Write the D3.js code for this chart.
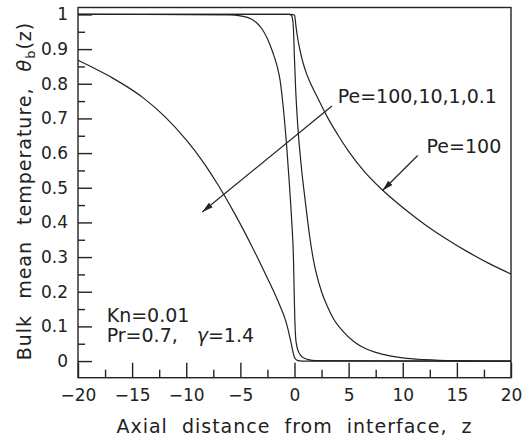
<!DOCTYPE html>
<html>
<head>
<meta charset="utf-8">
<script src="https://cdn.jsdelivr.net/npm/d3@7"></script>
<style>
  body { margin: 0; background: #fff; }
  text { font-family: "DejaVu Sans", sans-serif; fill: #222; }
</style>
</head>
<body>
<div id="chart"></div>
<script>
// curves (z, theta_b)
const pe100Z = [-20, -0.3, -0.1, 0, 0.05, 0.12, 0.25, 0.45, 0.75, 1.1, 1.5, 2, 3, 4, 5, 6.5, 8, 10, 12, 14, 16, 18, 20]
const pe100T = [1, 1, 0.999, 0.997, 0.99, 0.97, 0.94, 0.905, 0.865, 0.83, 0.8, 0.768, 0.706, 0.653, 0.605, 0.545, 0.497, 0.443, 0.395, 0.353, 0.315, 0.281, 0.251]

const pe10Z = [-20, -0.5, -0.3, -0.2, -0.1, 0, 0.1, 0.3, 0.6, 1.0, 1.4, 1.7, 2.0, 2.5, 3.0, 3.6, 4.5, 5.5, 6.5, 7.5, 8.8, 10, 12, 15, 20]
const pe10T = [1, 1, 0.998, 0.99, 0.96, 0.87, 0.79, 0.68, 0.57, 0.46, 0.36, 0.3, 0.255, 0.2, 0.16, 0.122, 0.085, 0.056, 0.037, 0.025, 0.015, 0.009, 0.004, 0.001, 0]

const pe1Z = [-20, -6, -5, -4, -3.5, -3, -2.5, -2, -1.6, -1.33, -1.0, -0.7, -0.45, -0.25, -0.1, -0.03, 0.03, 0.1, 0.2, 0.4, 0.7, 1.2, 2, 20]
const pe1T = [1, 0.999, 0.996, 0.987, 0.976, 0.958, 0.93, 0.89, 0.85, 0.81, 0.72, 0.61, 0.5, 0.4, 0.3, 0.2, 0.12, 0.07, 0.045, 0.025, 0.012, 0.005, 0.001, 0]

const pe01Z = [-20, -17, -14, -12, -10, -8.5, -7, -5.5, -4, -2.5, -1.5, -0.8, -0.4, -0.15, 0, 0.2, 0.5, 1, 20]
const pe01T = [0.868, 0.82, 0.76, 0.706, 0.638, 0.577, 0.505, 0.424, 0.335, 0.239, 0.171, 0.115, 0.065, 0.028, 0.01, 0.003, 0.0005, 0, 0]

const xTicks = [-20, -15, -10, -5, 0, 5, 10, 15, 20]
const yTicks = [0, 0.1, 0.2, 0.3, 0.4, 0.5, 0.6, 0.7, 0.8, 0.9, 1]

const W = 522, H = 440
const margin = {top: 7.5, right: 11, bottom: 62.3, left: 78}
const w = W - margin.left - margin.right,
      h = H - margin.top - margin.bottom

const x = d3.scaleLinear().domain([-20, 20]).range([0, w])
const y = d3.scaleLinear().domain([-0.048, 1.02]).range([h, 0])

const svg = d3.select("#chart").append("svg")
    .attr("width", W)
    .attr("height", H)

const defs = svg.append("defs")
defs.append("marker")
    .attr("id", "arrow")
    .attr("markerUnits", "userSpaceOnUse")
    .attr("viewBox", "0 -4 12 8")
    .attr("refX", 11)
    .attr("refY", 0)
    .attr("markerWidth", 12)
    .attr("markerHeight", 8)
    .attr("orient", "auto")
    .append("path")
    .attr("d", "M0,-3L11,0L0,3Z")
    .attr("fill", "#222")

const g = svg.append("g")
    .attr("transform", `translate(${margin.left},${margin.top})`)

// axes, ticks pointing inward
const fmtY = d => d3.format("~g")(d)
g.append("g")
    .call(d3.axisLeft(y).tickValues(yTicks).tickSize(-14).tickPadding(10).tickFormat(fmtY))
g.append("g")
    .call(d3.axisLeft(y).tickValues(d3.range(0.05, 1, 0.1)).tickSize(-7).tickFormat(""))

g.append("g")
    .attr("transform", `translate(0,${h})`)
    .call(d3.axisBottom(x).tickValues(xTicks).tickSize(-15).tickPadding(11).tickFormat(d3.format("d")))
g.append("g")
    .attr("transform", `translate(0,${h})`)
    .call(d3.axisBottom(x).tickValues(d3.range(-17.5, 20, 5)).tickSize(-8).tickFormat(""))

g.selectAll(".domain").remove()
g.selectAll(".tick line").attr("stroke", "#222").attr("stroke-width", 1.4)
g.selectAll(".tick text")
    .attr("font-family", "DejaVu Sans, sans-serif")
    .attr("font-size", 17)
    .attr("fill", "#222")

g.append("rect")
    .attr("width", w)
    .attr("height", h)
    .attr("fill", "none")
    .attr("stroke", "#222")
    .attr("stroke-width", 1.4)

// curves
const series = [
    {z: pe100Z, t: pe100T},
    {z: pe10Z, t: pe10T},
    {z: pe1Z, t: pe1T},
    {z: pe01Z, t: pe01T}
]

const line = d3.line()
    .x(d => x(d[0]))
    .y(d => y(d[1]))
    .curve(d3.curveMonotoneX)

g.selectAll("path.curve")
    .data(series)
    .enter()
    .append("path")
    .attr("class", "curve")
    .attr("d", s => line(s.z.map((z, i) => [z, s.t[i]])))
    .attr("fill", "none")
    .attr("stroke", "#222")
    .attr("stroke-width", 1.2)

// annotations
g.append("line")
    .attr("x1", x(3.46)).attr("y1", y(0.736))
    .attr("x2", x(-8.52)).attr("y2", y(0.43))
    .attr("stroke", "#222").attr("stroke-width", 1.2)
    .attr("marker-end", "url(#arrow)")

g.append("line")
    .attr("x1", x(11.38)).attr("y1", y(0.593))
    .attr("x2", x(8.13)).attr("y2", y(0.492))
    .attr("stroke", "#222").attr("stroke-width", 1.2)
    .attr("marker-end", "url(#arrow)")

g.append("text")
    .attr("x", x(3.99)).attr("y", y(0.744))
    .attr("font-size", 19)
    .text("Pe=100,10,1,0.1")

g.append("text")
    .attr("x", x(12.2)).attr("y", y(0.6))
    .attr("font-size", 19)
    .text("Pe=100")

g.append("text")
    .attr("x", x(-17.35)).attr("y", y(0.1136))
    .attr("font-size", 19)
    .text("Kn=0.01")

const pr = g.append("text")
    .attr("x", x(-17.35)).attr("y", y(0.056))
    .attr("font-size", 19)
pr.append("tspan").text("Pr=0.7,")
pr.append("tspan").attr("x", x(-9.04)).attr("font-style", "italic").text("γ")
pr.append("tspan").text("=1.4")

// axis titles
svg.append("text")
    .attr("x", margin.left + w / 2)
    .attr("y", 433)
    .attr("text-anchor", "middle")
    .attr("font-size", 19)
    .attr("letter-spacing", 1)
    .attr("word-spacing", 7)
    .text("Axial distance from interface, z")

const yt = svg.append("text")
    .attr("transform", "translate(31,191) rotate(-90)")
    .attr("text-anchor", "middle")
    .attr("font-size", 19)
    .attr("letter-spacing", 1)
    .attr("word-spacing", 9)
yt.append("tspan").text("Bulk mean temperature, ")
yt.append("tspan").attr("font-style", "italic").text("θ")
yt.append("tspan").attr("font-size", 13).attr("dy", 4).text("b")
yt.append("tspan").attr("dy", -4).text("(z)")
</script>
</body>
</html>
